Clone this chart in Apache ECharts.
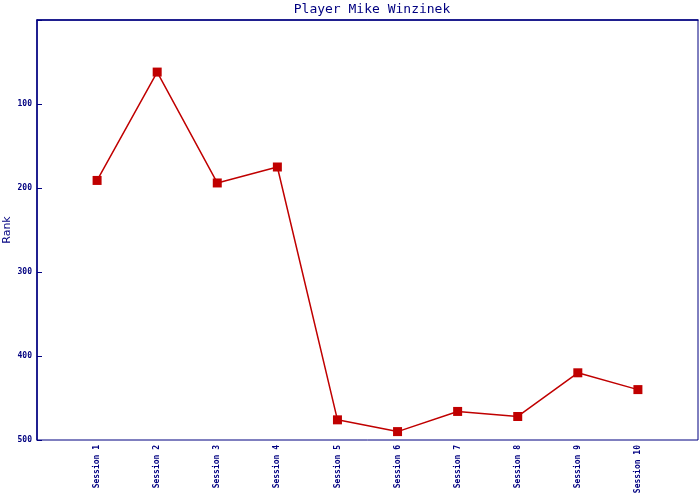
<!DOCTYPE html>
<html><head><meta charset="utf-8">
<script src="https://cdn.jsdelivr.net/npm/echarts@6/dist/echarts.min.js"></script>
<style>html,body{margin:0;padding:0;background:#fff}#c{width:700px;height:500px}</style>
</head><body><div id="c"></div>
<script>
const categories = ['Session 1','Session 2','Session 3','Session 4','Session 5','Session 6','Session 7','Session 8','Session 9','Session 10'];
const ranks = [191, 62, 194, 175, 476, 490, 466, 472, 420, 440];
const yTicks = [100, 200, 300, 400, 500];

const navy = '#000080';
const chart = echarts.init(document.getElementById('c'));
chart.setOption({
  animation: false,
  backgroundColor: '#fff',
  title: {
    text: 'Player Mike Winzinek', left: 367, top: -2, textAlign: 'center',
    textStyle: { fontFamily: 'DejaVu Sans Mono', fontSize: 13, fontWeight: 'normal', color: navy }
  },
  grid: { left: 37, right: 2, top: 20, bottom: 60, containLabel: false, outerBoundsMode: 'none',
          show: true, borderColor: navy, borderWidth: 1 },
  xAxis: {
    type: 'value', min: 0, max: categories.length + 1, interval: 1,
    axisLine: { show: true, lineStyle: { color: navy, width: 1.5 } },
    axisTick: { show: false },
    splitLine: { show: false },
    axisLabel: {
      rotate: 90, margin: 5, color: navy, fontFamily: 'DejaVu Sans Mono', fontSize: 8, fontWeight: 'bold',
      formatter: v => categories[v - 1] || ''
    }
  },
  yAxis: {
    type: 'value', inverse: true, min: 0, max: 500, interval: 100,
    name: 'Rank', nameLocation: 'middle', nameGap: 24, nameMoveOverlap: false,
    nameTextStyle: { color: navy, fontFamily: 'DejaVu Sans', fontSize: 11 },
    axisLine: { show: true, onZero: false, lineStyle: { color: navy, width: 1.5 } },
    axisTick: { show: true, inside: true, length: 5, lineStyle: { color: navy, width: 1 } },
    splitLine: { show: false },
    axisLabel: {
      margin: 5, color: navy, fontFamily: 'DejaVu Sans Mono', fontSize: 8, fontWeight: 'bold',
      formatter: v => yTicks.includes(v) ? String(v) : ''
    }
  },
  series: [{
    type: 'line',
    data: ranks.map((r, i) => [i + 1, r]),
    symbol: 'rect', symbolSize: 9,
    itemStyle: { color: '#c00000' },
    lineStyle: { color: '#c00000', width: 1.5 }
  }]
});
</script></body></html>
